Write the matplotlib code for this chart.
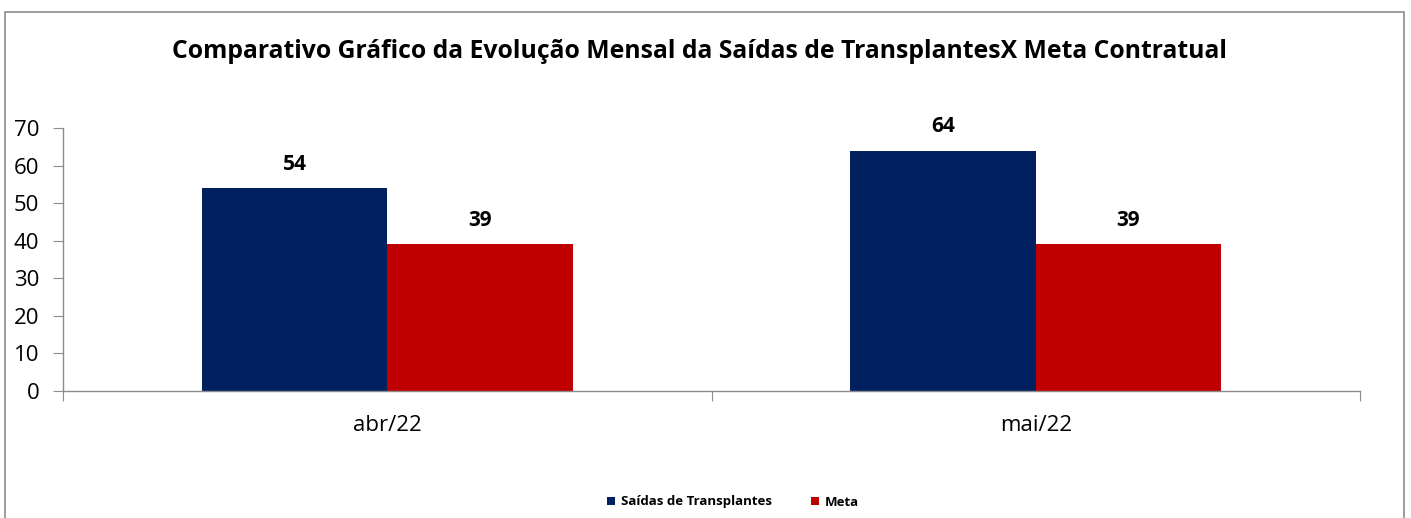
import matplotlib
matplotlib.use("Agg")
import matplotlib.pyplot as plt
from matplotlib.patches import Rectangle
import numpy as np

categories = ["abr/22", "mai/22"]
saidas = [54, 64]
meta = [39, 39]
series_names = ["Saídas de Transplantes", "Meta"]
title = "Comparativo Gráfico da Evolução Mensal da Saídas de TransplantesX Meta Contratual"

plt.rcParams['font.family'] = ['Open Sans', 'DejaVu Sans']

W, H = 1411, 518
fig = plt.figure(figsize=(W/100, H/100), dpi=100)
fig.patch.set_facecolor('white')

# outer frame
fig.add_artist(Rectangle((5/W, -0.01), (1404-5)/W, (H-12)/H + 0.01, transform=fig.transFigure,
                         fill=False, edgecolor='#8c8c8c', linewidth=1.2))

ax = fig.add_axes([63/W, 127/H, (1360-63)/W, 263/H])
x = np.arange(len(categories))
bw = 185/647
b1 = ax.bar(x - bw/2, saidas, bw, color='#002060', label=series_names[0])
b2 = ax.bar(x + bw/2, meta, bw, color='#C00000', label=series_names[1])

for bars, vals in ((b1, saidas), (b2, meta)):
    for rect, v in zip(bars, vals):
        ax.annotate(str(v), (rect.get_x() + rect.get_width()/2, v), xytext=(0, 24),
                    textcoords='offset pixels', ha='center', va='center',
                    fontsize=15, fontweight='bold', color='black')

ax.set_xlim(-0.5, 1.5)
ax.set_ylim(0, 70)
ax.set_yticks(range(0, 71, 10))
ax.set_xticks([-0.5, 0.5, 1.5], minor=False)
ax.set_xticklabels([])
ax.set_xticks(x, minor=True)
ax.set_xticklabels(categories, minor=True)
ax.tick_params(axis='x', which='minor', length=0, pad=17, labelsize=16)
ax.tick_params(axis='x', which='major', length=7, color='#8c8c8c', direction='out')
ax.tick_params(axis='y', length=7, color='#8c8c8c', direction='out', labelsize=16, pad=10)
for s in ['top', 'right']:
    ax.spines[s].set_visible(False)
for s in ['left', 'bottom']:
    ax.spines[s].set_color('#8c8c8c')
    ax.spines[s].set_linewidth(1.0)

fig.text(700/W, 1 - 52/H, title, ha='center', va='center', fontsize=17.8, fontweight='bold')

leg = fig.legend(handles=[b1, b2], loc='center', bbox_to_anchor=(733/W, 1 - 502/H), ncol=2,
                 frameon=False, prop={'weight': 'bold', 'size': 9.5},
                 handlelength=0.6, handleheight=0.6, handletextpad=0.4, columnspacing=3)

fig.savefig("out.png", dpi=100, facecolor='white')
